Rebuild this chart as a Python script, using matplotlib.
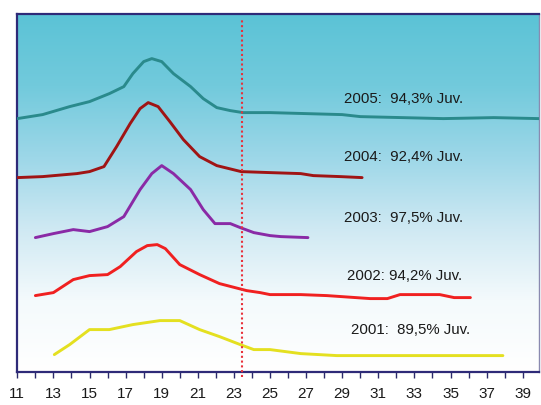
import numpy as np
import matplotlib
matplotlib.use('Agg')
import matplotlib.pyplot as plt
from matplotlib.colors import LinearSegmentedColormap

plt.rcParams['font.family'] = ['Liberation Sans', 'DejaVu Sans']

# curves (x = size class, y = stacked height, arbitrary units)
x_2005 = [11.0, 12.4, 13.9, 15.0, 16.1, 16.9, 17.4, 18.0, 18.45, 19.0, 19.65, 20.6, 21.3, 22.05, 22.8, 23.5, 25.0, 27.0, 29.0, 30.0, 34.6, 37.4, 39.9]
y_2005 = [256, 260, 268, 273, 281, 288, 301, 313, 316, 313, 301, 288, 276, 267, 264, 262, 262, 261, 260, 258, 256, 257, 256]

x_2004 = [11.0, 12.4, 14.3, 15.0, 15.8, 16.5, 17.25, 17.8, 18.25, 18.8, 19.45, 20.2, 21.1, 22.05, 23.4, 25.0, 26.7, 27.4, 28.9, 30.1]
y_2004 = [197, 198, 201, 203, 208, 228, 251, 266, 272, 268, 253, 235, 218, 209, 203, 202, 201, 199, 198, 197]

x_2003 = [12.0, 13.0, 14.1, 15.0, 16.0, 16.9, 17.8, 18.45, 19.0, 19.65, 20.6, 21.3, 21.95, 22.8, 23.35, 24.1, 25.0, 25.6, 27.1]
y_2003 = [137, 141, 145, 143, 148, 158, 185, 201, 209, 201, 185, 165, 151, 151, 147, 142, 139, 138, 137]

x_2002 = [12.0, 13.0, 14.1, 15.0, 16.0, 16.7, 17.6, 18.2, 18.75, 19.2, 20.0, 21.1, 22.2, 23.7, 24.45, 25.0, 26.7, 28.15, 30.55, 31.5, 32.2, 34.4, 35.2, 36.1]
y_2002 = [79, 82, 95, 99, 100, 108, 123, 129, 130, 126, 110, 100, 91, 84, 82, 80, 80, 79, 76, 76, 80, 80, 77, 77]

x_2001 = [13.05, 13.9, 15.0, 16.1, 17.4, 18.9, 20.0, 21.1, 22.2, 23.35, 24.1, 25.0, 26.7, 28.7, 37.9]
y_2001 = [20, 30, 45, 45, 50, 54, 54, 45, 38, 30, 25, 25, 21, 19, 19]

labels = ['2005:  94,3% Juv.', '2004:  92,4% Juv.', '2003:  97,5% Juv.',
          '2002: 94,2% Juv.', '2001:  89,5% Juv.']
label_x = [29.1, 29.1, 29.1, 29.27, 29.5]
label_y = [275.6, 217.3, 156.3, 98.9, 44.6]
colors = ['#2a8a8c', '#a01414', '#8a2aa6', '#f02020', '#e4e020']
cut_x = 23.45

fig = plt.figure(figsize=(5.41, 4.05), dpi=100)
ax = fig.add_axes([0.032, 0.0815, 0.9643, 0.8839])

x_lo, x_hi, y_lo, y_hi = 11, 39.9, 2.6, 360.6

cmap = LinearSegmentedColormap.from_list(
    'bg', [(0.0, '#ffffff'), (0.2, '#f4fafc'), (0.4, '#cfe9f3'),
           (0.6, '#9dd7e8'), (0.8, '#72cadc'), (1.0, '#5bc3d6')])
ax.imshow(np.linspace(0, 1, 256).reshape(-1, 1), extent=[x_lo, x_hi, y_lo, y_hi],
          aspect='auto', cmap=cmap, origin='lower', zorder=0)

series = [(x_2005, y_2005), (x_2004, y_2004), (x_2003, y_2003), (x_2002, y_2002), (x_2001, y_2001)]
for (xs, ys), c in zip(series, colors):
    ax.plot(xs, ys, color=c, lw=2.1, solid_capstyle='round',
            solid_joinstyle='round', zorder=3)

for t, tx, ty in zip(labels, label_x, label_y):
    ax.text(tx, ty, t, fontsize=10.8, color='#1a1a1a', ha='left', va='center', zorder=4)

ax.axvline(cut_x, ymin=-0.015, ymax=0.985, color='#e8303a', lw=1.5,
           ls=(0, (1, 1.3)), clip_on=False, zorder=5)

ax.set_xlim(x_lo, x_hi)
ax.set_ylim(y_lo, y_hi)
ax.set_yticks([])
ax.set_xticks(range(11, 40, 2))
ax.set_xticks(range(12, 40, 2), minor=True)
ax.tick_params(axis='x', which='both', direction='out', length=4, width=1,
               color='#2a2a6a', pad=7, labelsize=11, labelcolor='#1a1a1a')

for side in ['left', 'top', 'bottom']:
    ax.spines[side].set_color('#2e2a78')
    ax.spines[side].set_linewidth(1.6)
ax.spines['right'].set_color('#8a8ab0')
ax.spines['right'].set_linewidth(1)

fig.savefig('out.png', dpi=100)
